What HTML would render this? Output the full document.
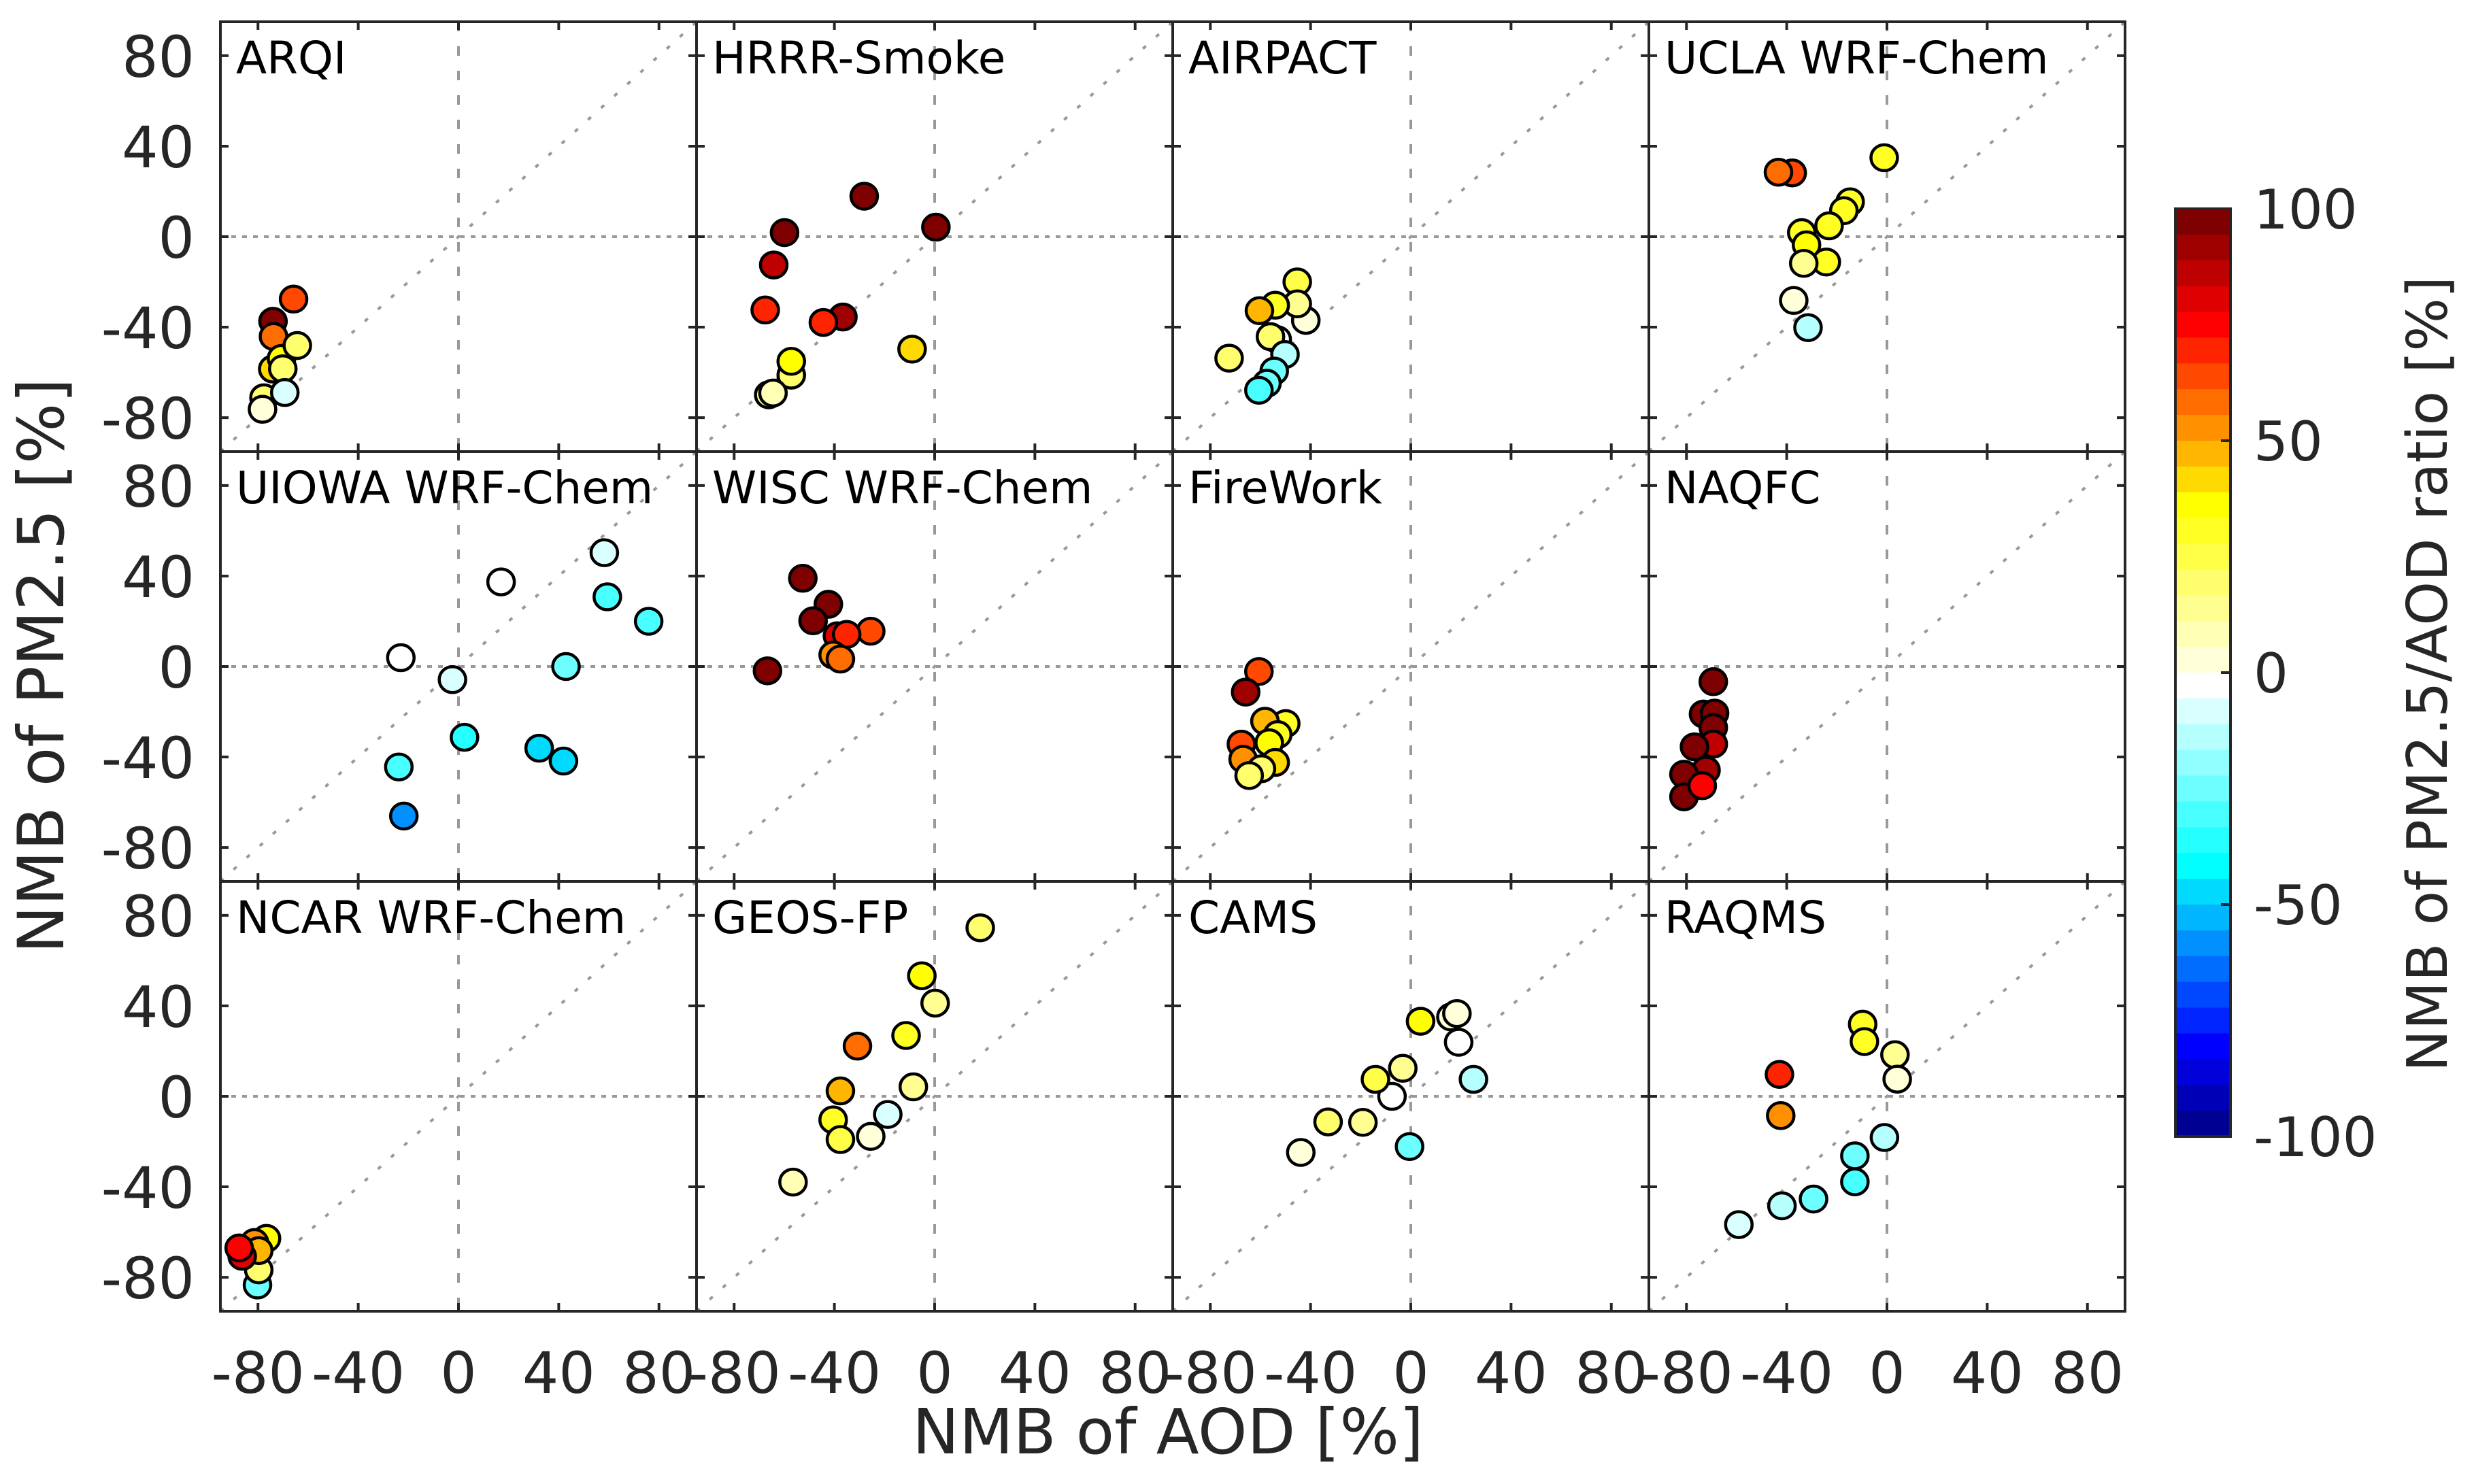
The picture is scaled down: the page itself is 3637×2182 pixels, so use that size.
<!DOCTYPE html>
<html><head><meta charset="utf-8">
<style>
html,body{margin:0;padding:0;background:#fff;}
svg{display:block;font-family:"DejaVu Sans","Liberation Sans",sans-serif;}
</style></head>
<body>
<svg id="chart" width="3637" height="2182" viewBox="0 0 3637 2182" xmlns="http://www.w3.org/2000/svg">
  <rect x="0" y="0" width="3637" height="2182" fill="#fff"/>
  <g id="panels"></g>
  <g id="cbar"></g>
  <text x="1717" y="2137" text-anchor="middle" font-size="92" fill="#262626">NMB of AOD [%]</text>
  <text transform="translate(93,979) rotate(-90)" text-anchor="middle" font-size="94" fill="#262626">NMB of PM2.5 [%]</text>
  <text transform="translate(3597,991) rotate(-90)" text-anchor="middle" font-size="82" fill="#262626" textLength="1170" lengthAdjust="spacingAndGlyphs">NMB of PM2.5/AOD ratio [%]</text>
</svg>
<script>
const panelNames = ["ARQI","HRRR-Smoke","AIRPACT","UCLA WRF-Chem","UIOWA WRF-Chem","WISC WRF-Chem","FireWork","NAQFC","NCAR WRF-Chem","GEOS-FP","CAMS","RAQMS"];
const axisTicks = [-80,-40,0,40,80];
const cbarTicks = [100,50,0,-50,-100];
const aodNMB = [
 [-65.8,-74.0,-73.8,-77.6,-78.2,-74.1,-70.6,-64.3,-70.1,-69.3],
 [-28.1,0.5,-59.9,-64.2,-67.6,-36.6,-44.4,-9.0,-57.2,-57.2,-66.2,-64.5],
 [-45.3,-41.9,-45.3,-54.1,-60.4,-53.3,-56.0,-72.5,-50.2,-54.5,-57.4,-60.6],
 [-1.1,-37.8,-43.3,-14.7,-17.2,-23.1,-34.0,-32.1,-24.2,-33.2,-37.2,-31.5],
 [58.2,17.0,59.4,75.9,-23.0,42.9,-2.4,2.4,32.2,41.9,-23.8,-21.8],
 [-52.6,-42.4,-48.5,-25.5,-38.8,-35.1,-40.5,-37.6,-66.7],
 [-60.6,-65.9,-49.9,-58.2,-53.1,-56.5,-67.6,-66.9,-54.1,-59.6,-64.5],
 [-69.3,-73.2,-68.8,-69.3,-69.3,-76.8,-72.2,-81.0,-81.0,-73.7],
 [-80.2,-79.7,-76.6,-81.4,-79.7,-86.3,-87.5],
 [18.2,-5.1,0.2,-11.4,-30.8,-8.5,-37.6,-18.7,-25.5,-40.5,-37.6,-56.5],
 [16.0,18.4,3.9,19.1,-3.2,-7.5,-14.1,25.0,-33.0,-19.1,-0.5,-43.9],
 [-9.7,-9.0,3.2,-42.9,4.1,-42.4,-1.0,-12.8,-12.8,-29.3,-41.9,-59.1]
];
const pm25NMB = [
 [-27.6,-37.4,-44.1,-71.2,-76.3,-58.5,-53.8,-48.1,-58.4,-68.9],
 [17.9,4.2,1.8,-12.5,-32.4,-35.5,-37.9,-49.7,-61.2,-55.1,-69.9,-69.1],
 [-20.0,-37.0,-29.7,-30.3,-32.7,-45.5,-44.2,-53.7,-52.1,-59.4,-64.8,-67.9],
 [34.9,28.2,28.5,15.4,11.5,4.8,1.8,-3.6,-11.2,-11.8,-28.2,-40.2],
 [50.3,37.4,30.8,20.0,3.9,0.0,-5.8,-31.3,-36.1,-41.8,-44.4,-66.1],
 [39.0,27.5,20.2,15.6,13.6,14.2,5.1,3.3,-1.9],
 [-2.2,-11.3,-25.2,-24.2,-30.1,-33.7,-34.3,-41.0,-42.4,-45.2,-48.2],
 [-6.7,-21.0,-20.6,-27.0,-34.3,-35.5,-45.8,-47.6,-57.6,-52.7],
 [-83.4,-76.7,-62.8,-64.6,-68.2,-70.7,-67.0],
 [74.5,53.3,41.2,26.9,22.2,4.2,2.4,-8.0,-17.7,-10.4,-19.1,-37.9],
 [35.1,36.6,33.2,23.9,12.4,0.0,7.5,7.5,-11.3,-11.5,-22.2,-24.8],
 [31.9,24.2,18.4,9.7,7.6,-8.5,-18.2,-37.8,-26.3,-45.4,-48.4,-56.7]
];
const ratioNMB = [
 [64,97,58,19,3,42,36,19,19,-8],
 [97,97,97,86,69,92,69,42,19,36,14,8],
 [25,3,14,31,47,-3,19,19,-14,-25,-25,-31],
 [31,64,58,31,31,31,31,36,31,14,3,-14],
 [-8,-3,-31,-31,-3,-25,-8,-36,-47,-47,-31,-61],
 [97,97,97,64,81,69,53,58,97],
 [64,92,31,47,31,36,64,53,42,19,19],
 [97,97,97,97,86,97,92,97,97,75],
 [-25,19,36,53,47,81,75],
 [19,36,14,31,58,14,47,-8,3,31,25,8],
 [3,3,36,-3,14,-3,25,-14,19,14,-25,3],
 [31,31,14,69,3,53,-14,-31,-25,-25,-14,-8]
];
const cmap = ["#7f0000","#9f0000","#bf0000","#df0000","#ff0000","#ff2400","#ff4800","#ff6d00","#ff9100","#ffb600","#ffda00","#ffff00",
 "#ffff24","#ffff48","#ffff6d","#ffff91","#ffffb6","#ffffda","#ffffff","#daffff","#b6ffff","#91ffff","#6dffff","#48ffff",
 "#24ffff","#00ffff","#00daff","#00b6ff","#0091ff","#006dff","#0048ff","#0024ff","#0000ff","#0000da","#0000b6","#000091"];

const NS = "http://www.w3.org/2000/svg";
const P_LEFT = 324, P_TOP = 32, P_W = 700, P_H = 632, LIM = 95;
function mk(tag, attrs, parent){
  const e = document.createElementNS(NS, tag);
  for (const k in attrs) e.setAttribute(k, attrs[k]);
  parent.appendChild(e);
  return e;
}
function colorFor(c){
  let k = Math.floor((100 - c) / (200/36));
  k = Math.max(0, Math.min(35, k));
  return cmap[k];
}
const panelsG = document.getElementById('panels');
panelNames.forEach((name, i) => {
  const col = i % 4, row = Math.floor(i / 4);
  const x0 = P_LEFT + col * P_W, y0 = P_TOP + row * P_H;
  const sx = v => x0 + (v + LIM) / (2*LIM) * P_W;
  const sy = v => y0 + (LIM - v) / (2*LIM) * P_H;
  const slug = name.toLowerCase().replace(/[^a-z0-9]+/g,'-');
  const g = mk('g', {}, panelsG);
  
  
  const vl = mk('line', {x1:sx(0), y1:y0, x2:sx(0), y2:y0+P_H, stroke:'#999', 'stroke-width':4, 'stroke-dasharray':'14,22'}, g);
  
  
  const hl = mk('line', {x1:x0, y1:sy(0), x2:x0+P_W, y2:sy(0), stroke:'#999', 'stroke-width':4, 'stroke-dasharray':'7,9'}, g);
  
  
  const dl = mk('line', {x1:sx(-LIM), y1:sy(-LIM), x2:sx(LIM), y2:sy(LIM), stroke:'#999', 'stroke-width':4, 'stroke-dasharray':'6,20'}, g);
  
  
  const xs = aodNMB[i], ys = pm25NMB[i], cs = ratioNMB[i];
  xs.forEach((xv, j) => {
    const c = mk('ellipse', {cx:sx(xv), cy:sy(ys[j]), rx:19.5, ry:19, fill:colorFor(cs[j]), stroke:'#000', 'stroke-width':4.5}, g);
    
    
  });
  const fr = mk('rect', {x:x0, y:y0, width:P_W, height:P_H, fill:'none', stroke:'#262626', 'stroke-width':4}, g);
  
  
  axisTicks.forEach(t => {
    const tl = 12;
    const a = mk('path', {d:`M${sx(t)},${y0}v${tl}M${sx(t)},${y0+P_H}v${-tl}M${x0},${sy(t)}h${tl}M${x0+P_W},${sy(t)}h${-tl}`, stroke:'#262626', 'stroke-width':4, fill:'none'}, g);
    
    
  });
  const tt = mk('text', {x:x0+23, y:y0+76, 'font-size':66, fill:'#000'}, g);
  tt.textContent = name;
  
  
  if (col === 0) {
    axisTicks.forEach(t => {
      const lb = mk('text', {x:286, y:sy(t)+31, 'text-anchor':'end', 'font-size':84, fill:'#262626'}, g);
      lb.textContent = String(t);
      
      
    });
  }
  if (row === 2) {
    axisTicks.forEach(t => {
      const lb = mk('text', {x:sx(t), y:2048, 'text-anchor':'middle', 'font-size':84, fill:'#262626'}, g);
      lb.textContent = String(t);
      
      
    });
  }
});
const cb = document.getElementById('cbar');
const CB_X = 3198, CB_W = 81, CB_TOP = 307, CB_BOT = 1671;
const cy = v => CB_TOP + (100 - v) / 200 * (CB_BOT - CB_TOP);
cmap.forEach((col, k) => {
  const vTop = 100 - k * 200/36, vBot = 100 - (k+1) * 200/36;
  const r = mk('rect', {x:CB_X, y:cy(vTop), width:CB_W, height:cy(vBot)-cy(vTop)+0.5, fill:col}, cb);
  
  
});
const cbf = mk('rect', {x:CB_X, y:CB_TOP, width:CB_W, height:CB_BOT-CB_TOP, fill:'none', stroke:'#262626', 'stroke-width':4}, cb);


cbarTicks.forEach(t => {
  const tk = mk('line', {x1:CB_X+CB_W-14, x2:CB_X+CB_W, y1:cy(t), y2:cy(t), stroke:'#262626', 'stroke-width':4}, cb);
  
  
  const lb = mk('text', {x:3313, y:cy(t)+29, 'font-size':80, fill:'#262626'}, cb);
  lb.textContent = String(t);
  
  
});
</script>
</body></html>
